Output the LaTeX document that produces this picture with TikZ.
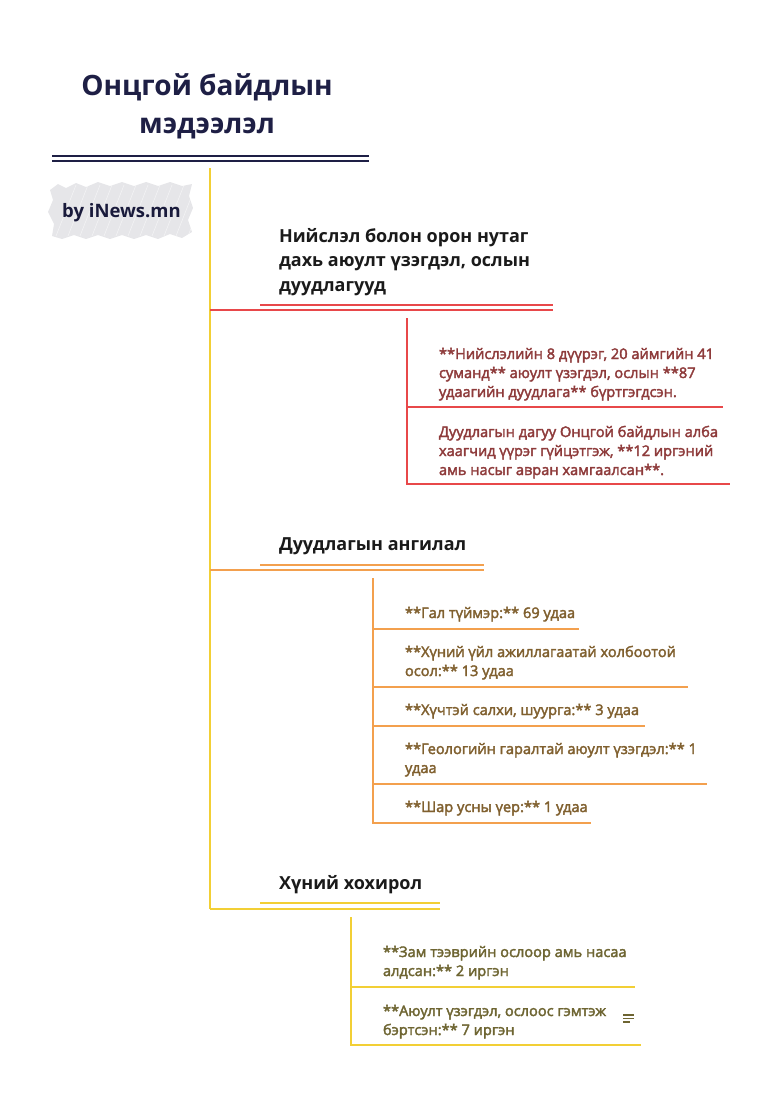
\documentclass[tikz,border=0pt]{standalone}
\usepackage{fontspec}
\setmainfont{Open Sans}
\newfontfamily\semib{Open Sans}[FakeBold=2.6]
\definecolor{navy}{HTML}{1E1F45}
\definecolor{headtxt}{HTML}{1A1A1A}
\definecolor{redline}{HTML}{E8484A}
\definecolor{redtxt}{HTML}{8E3B3B}
\definecolor{orline}{HTML}{F3A04E}
\definecolor{ortxt}{HTML}{80602F}
\definecolor{yelline}{HTML}{F2CF35}
\definecolor{yeltxt}{HTML}{6E6532}
\definecolor{scrib}{HTML}{E6E6E9}
\newcommand{\tl}[1]{\begin{tabular}[t]{@{}l@{}}#1\end{tabular}}
\tikzset{
  txt/.style={anchor=base west, inner sep=0pt, outer sep=0pt},
  head/.style={txt, text=headtxt, font=\fontsize{18}{24.5}\selectfont\bfseries},
  kid/.style={txt, font=\fontsize{14.6}{19}\selectfont\semib},
  ln/.style={line width=2pt},
}
\begin{document}
\begin{tikzpicture}[x=1pt,y=-1pt]
\useasboundingbox (0,0) rectangle (781,1097);
% title
\node[anchor=base, inner sep=0pt, text=navy, font=\fontsize{28}{37}\selectfont\bfseries] (t1) at (207,96) {Онцгой байдлын};
\node[anchor=base, inner sep=0pt, text=navy, font=\fontsize{28}{37}\selectfont\bfseries] (t2) at (207,133) {мэдээлэл};
\draw[navy, line width=2pt] (52,155.5) -- (369,155.5);
\draw[navy, line width=2pt] (52,160.5) -- (369,160.5);
% scribble badge
\fill[scrib] (50,190) -- (58,184) -- (66,188) -- (76,183) -- (86,187) -- (98,182) -- (110,186) -- (122,182) -- (134,186) -- (146,182) -- (158,186) -- (170,182) -- (182,186) -- (192,184) -- (189,196) -- (193,208) -- (188,220) -- (192,232) -- (182,238) -- (170,234) -- (158,239) -- (146,235) -- (134,239) -- (122,235) -- (110,239) -- (98,235) -- (86,239) -- (74,235) -- (62,239) -- (52,236) -- (54,224) -- (48,212) -- (53,200) -- cycle;
\foreach \i in {0,...,11}{
  \draw[white, line width=0.6pt, opacity=0.5] (56+\i*12,236) -- (76+\i*12,185);
}
\node[anchor=base west, inner sep=0pt, text=navy!85!black, font=\fontsize{18.5}{20}\selectfont\bfseries] (by) at (62,217) {by iNews.mn};
% main trunk
\coordinate (top) at (210,168);
\coordinate (b1) at (210,310);
\coordinate (b2) at (210,570);
\coordinate (b3) at (210,909);
\draw[yelline, ln] (top) -- (b3);

% ===== branch 1 (red)
\node[head] (h1) at (279,242) {\tl{Нийслэл болон орон нутаг\\дахь аюулт үзэгдэл, ослын\\дуудлагууд}};
\coordinate (h1e) at (553,310);
\draw[redline, ln] (b1) -- (h1e);
\draw[redline, ln] (260,305) -- (553,305);
\coordinate (s1) at (407,318);
\coordinate (s1b) at (407,485);
\draw[redline, ln] (s1) -- (s1b);
\node[kid, text=redtxt] (r1) at (439,359) {\tl{**Нийслэлийн 8 дүүрэг, 20 аймгийн 41\\суманд** аюулт үзэгдэл, ослын **87\\удаагийн дуудлага** бүртгэгдсэн.}};
\coordinate (r1a) at (407,407); \coordinate (r1b) at (723,407);
\draw[redline, ln] (r1a) -- (r1b);
\node[kid, text=redtxt] (r2) at (439,437) {\tl{Дуудлагын дагуу Онцгой байдлын алба\\хаагчид үүрэг гүйцэтгэж, **12 иргэний\\амь насыг авран хамгаалсан**.}};
\coordinate (r2a) at (407,484); \coordinate (r2b) at (730,484);
\draw[redline, ln] (r2a) -- (r2b);

% ===== branch 2 (orange)
\node[head] (h2) at (279,550) {Дуудлагын ангилал};
\coordinate (h2e) at (484,570);
\draw[orline, ln] (b2) -- (h2e);
\draw[orline, ln] (260,565) -- (484,565);
\coordinate (s2) at (373,578);
\coordinate (s2b) at (373,824);
\draw[orline, ln] (s2) -- (s2b);
\node[kid, text=ortxt] (o1) at (405,618) {**Гал түймэр:** 69 удаа};
\draw[orline, ln] (373,629) -- (579,629);
\node[kid, text=ortxt] (o2) at (405,657) {\tl{**Хүний үйл ажиллагаатай холбоотой\\осол:** 13 удаа}};
\draw[orline, ln] (373,687) -- (688,687);
\node[kid, text=ortxt] (o3) at (405,715) {**Хүчтэй салхи, шуурга:** 3 удаа};
\draw[orline, ln] (373,726) -- (645,726);
\node[kid, text=ortxt] (o4) at (405,754) {\tl{**Геологийн гаралтай аюулт үзэгдэл:** 1\\удаа}};
\draw[orline, ln] (373,784) -- (707,784);
\node[kid, text=ortxt] (o5) at (405,812) {**Шар усны үер:** 1 удаа};
\draw[orline, ln] (373,823) -- (591,823);

% ===== branch 3 (yellow)
\node[head] (h3) at (279,889) {Хүний хохирол};
\coordinate (h3e) at (440,909);
\draw[yelline, ln] (b3) -- (h3e);
\draw[yelline, ln] (260,903) -- (440,903);
\coordinate (s3) at (351,917);
\coordinate (s3b) at (351,1046);
\draw[yelline, ln] (s3) -- (s3b);
\node[kid, text=yeltxt] (y1) at (383,957) {\tl{**Зам тээврийн ослоор амь насаа\\алдсан:** 2 иргэн}};
\draw[yelline, ln] (351,987) -- (635,987);
\node[kid, text=yeltxt] (y2) at (383,1016) {\tl{**Аюулт үзэгдэл, ослоос гэмтэж\\бэртсэн:** 7 иргэн}};
\draw[yelline, ln] (351,1045) -- (641,1045);
% note icon
\draw[yeltxt, line width=1.3pt] (623,1015) -- (634,1015);
\draw[yeltxt, line width=1.3pt] (623,1018.5) -- (634,1018.5);
\draw[yeltxt, line width=1.3pt] (623,1022) -- (630,1022);
\end{tikzpicture}
\end{document}
